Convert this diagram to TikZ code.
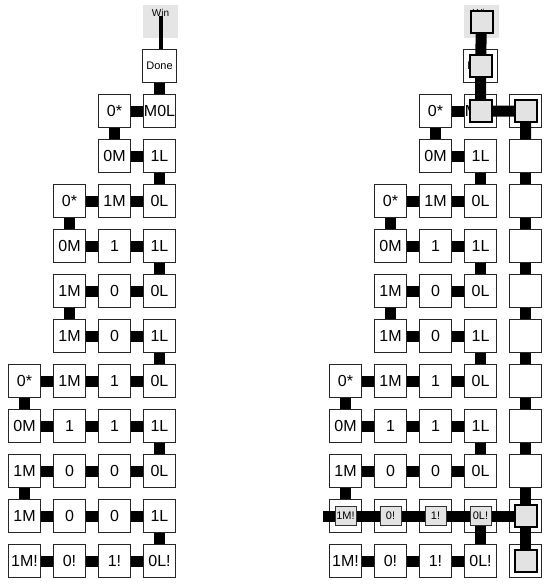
\documentclass[tikz,border=0pt]{standalone}
\usepackage{fontspec}
\setmainfont{Liberation Sans}
\pgfdeclarelayer{bg}
\pgfsetlayers{bg,main}
\begin{document}
\begin{tikzpicture}[x=1pt,y=-1pt,
  box/.style={draw=black!85,line width=1pt,fill=white,minimum width=32.5pt,minimum height=32.5pt,inner sep=0pt,font=\fontsize{16}{16}\selectfont},
  conn/.style={line width=11pt,black},
  wire/.style={line width=4pt,black},
  ov/.style={draw=black,line width=2pt,fill=black!11,minimum size=22pt,inner sep=0pt},
  ovs/.style={draw=black!80,line width=0.8pt,fill=black!11,minimum width=21pt,minimum height=19pt,inner sep=0pt,font=\fontsize{11}{11}\selectfont},
  winbg/.style={fill=black!10,minimum width=35pt,minimum height=33pt,inner sep=0pt},
  wintxt/.style={font=\fontsize{10}{10}\selectfont,inner sep=0pt},
  donebox/.style={box,minimum width=34pt,font=\fontsize{11}{11}\selectfont}
]
\useasboundingbox (0,0) rectangle (546,584);
% Win and Done
\node[winbg] (LW) at (160.5,21.5) {};
\node[wintxt] (LWt) at (160.5,12.5) {Win};
\node[donebox] (LD) at (159.5,66) {Done};
\node[winbg] (RW) at (481.5,21.5) {};
\node[wintxt] (RWt) at (481.5,12.5) {Win};
\node[donebox] (RD) at (480.5,66) {Done};
% boxes
\foreach \r/\c/\t in {0/3/0*,0/4/M0L,1/3/0M,1/4/1L,2/2/0*,2/3/1M,2/4/0L,3/2/0M,3/3/1,3/4/1L,4/2/1M,4/3/0,4/4/0L,5/2/1M,5/3/0,5/4/1L,6/1/0*,6/2/1M,6/3/1,6/4/0L,7/1/0M,7/2/1,7/3/1,7/4/1L,8/1/1M,8/2/0,8/3/0,8/4/0L,9/1/1M,9/2/0,9/3/0,9/4/1L,10/1/1M!,10/2/0!,10/3/1!,10/4/0L!}{
  \node[box] (L\r-\c) at ({24.5+45*(\c-1)},{111+45*\r}) {\t};
  \ifnum\r=9
    \node[box] (R\r-\c) at ({345.5+45*(\c-1)},{111+45*\r}) {};
  \else
    \node[box] (R\r-\c) at ({345.5+45*(\c-1)},{111+45*\r}) {\t};
  \fi
}
\foreach \r in {0,...,10}{
  \node[box] (R\r-5) at (525.5,{111+45*\r}) {};
}
% connectors behind boxes
\begin{pgfonlayer}{bg}
  \draw[conn] (LD) -- (L0-4);
  \draw[conn] (RD) -- (R0-4);
  \foreach \r/\c [evaluate=\c as \cn using int(\c+1)] in {0/3,1/3,2/2,2/3,3/2,3/3,4/2,4/3,5/2,5/3,6/1,6/2,6/3,7/1,7/2,7/3,8/1,8/2,8/3,10/1,10/2,10/3}{
    \draw[conn] (L\r-\c) -- (L\r-\cn);
    \draw[conn] (R\r-\c) -- (R\r-\cn);
  }
  \foreach \c [evaluate=\c as \cn using int(\c+1)] in {1,2,3}{
    \draw[conn] (L9-\c) -- (L9-\cn);
  }
  \foreach \r/\c [evaluate=\r as \rn using int(\r+1)] in {0/3,1/4,2/2,3/4,4/2,5/4,6/1,7/4,8/1,9/4}{
    \draw[conn] (L\r-\c) -- (L\rn-\c);
    \draw[conn] (R\r-\c) -- (R\rn-\c);
  }
  \foreach \r [evaluate=\r as \rn using int(\r+1)] in {0,...,9}{
    \draw[conn] (R\r-5) -- (R\rn-5);
  }
\end{pgfonlayer}
% left wire
\draw[wire] (LWt.south) -- (LWt.south |- LD.north);
% highlighted path on the right
\draw[conn] (RW.center) -- (RD.center) -- (R0-4.center) -- (R0-5.center) -- (R1-5.north);
\draw[conn] (R8-5.south) -- (R9-5.center) -- (R10-5.center);
\draw[conn] (R9-5.center) -- ([xshift=-6pt]R9-1.west);
\draw[conn] (R9-4.center) -- (R10-4.north);
% overlays
\node[ov] (oW) at (RW.center) {};
\node[ov] (oD) at (RD.center) {};
\node[ov] (o04) at (R0-4.center) {};
\node[ov] (o05) at (R0-5.center) {};
\node[ov] (o95) at (R9-5.center) {};
\node[ov] (o105) at (R10-5.center) {};
\node[ovs] (o91) at (R9-1.center) {1M!};
\node[ovs] (o92) at (R9-2.center) {0!};
\node[ovs] (o93) at (R9-3.center) {1!};
\node[ovs] (o94) at (R9-4.center) {0L!};
\end{tikzpicture}
\end{document}
